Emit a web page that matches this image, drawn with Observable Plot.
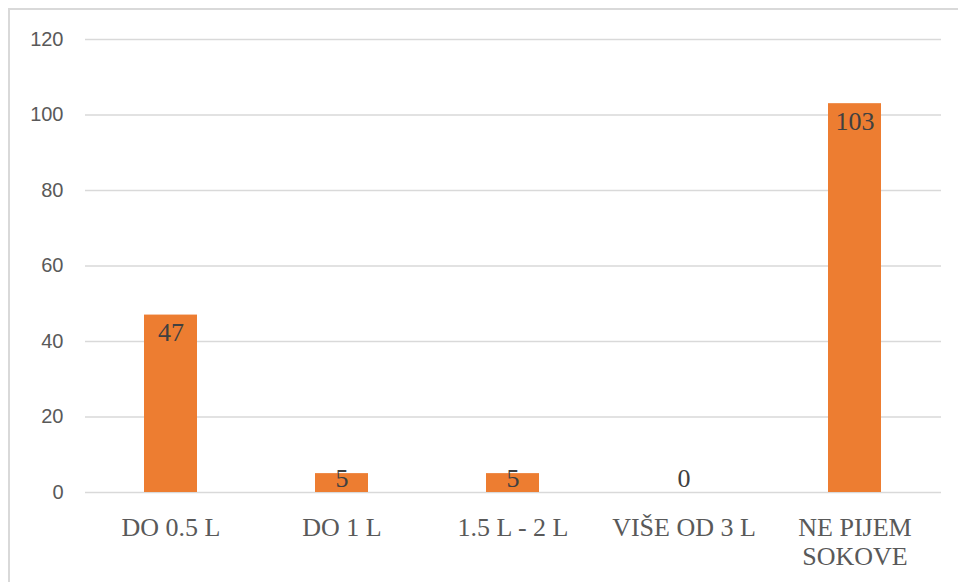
<!DOCTYPE html>
<html>
<head>
<meta charset="utf-8">
<script src="https://cdn.jsdelivr.net/npm/d3@7"></script>
<script src="https://cdn.jsdelivr.net/npm/@observablehq/plot@0.6"></script>
<style>
  html, body { margin: 0; padding: 0; background: #fff; overflow: hidden; }
  #wrap { position: relative; width: 958px; height: 582px; }
  #frame { position: absolute; left: 8px; top: 8px; width: 980px; height: 600px; border: 2px solid #d9d9d9; box-sizing: border-box; pointer-events: none; }
  #chart { position: absolute; left: 0; top: 0; }
  .xax text { font-family: 'Liberation Serif', 'Times New Roman', serif !important; font-size: 26px !important; }
  .yax text { font-family: 'Liberation Sans', Arial, sans-serif !important; font-size: 20px !important; }
  .lbl text { font-family: 'Liberation Serif', 'Times New Roman', serif !important; font-size: 26px !important; }
</style>
</head>
<body>
<div id="wrap">
  <div id="chart"></div>
  <div id="frame"></div>
</div>
<script>
const categories = ["DO 0.5 L", "DO 1 L", "1.5 L - 2 L", "VIŠE OD 3 L", "NE PIJEM SOKOVE"];
const tickLabels = ["DO 0.5 L", "DO 1 L", "1.5 L - 2 L", "VIŠE OD 3 L", "NE PIJEM\nSOKOVE"];
const values = [47, 5, 5, 0, 103];
const yTicks = [0, 20, 40, 60, 80, 100, 120];

const data = categories.map((c, i) => ({category: c, value: values[i]}));
const labelOf = new Map(categories.map((c, i) => [c, tickLabels[i]]));

const serif = "'Liberation Serif', 'Times New Roman', serif";
const sans = "'Liberation Sans', Arial, sans-serif";

const chart = Plot.plot({
  width: 958,
  height: 582,
  marginTop: 39,
  marginBottom: 90,
  marginLeft: 85,
  marginRight: 17,
  style: {background: "transparent", overflow: "visible"},
  x: {domain: categories, paddingInner: 0.69, paddingOuter: 0.345, label: null},
  y: {domain: [0, 120], label: null},
  marks: [
    Plot.gridY(yTicks, {stroke: "#d9d9d9", strokeOpacity: 1, strokeWidth: 1.4}),
    Plot.barY(data, {x: "category", y: "value", fill: "#ED7D31"}),
    Plot.text(data.filter(d => d.value >= 10), {
      x: "category", y: "value", text: d => String(d.value), className: "lbl",
      dy: 18, fontFamily: serif, fontSize: 26, fill: "#404040"
    }),
    Plot.text(data.filter(d => d.value < 10), {
      x: "category", y: () => 0, text: d => String(d.value), className: "lbl",
      dy: -14, fontFamily: serif, fontSize: 26, fill: "#404040"
    }),
    Plot.axisY({
      ticks: yTicks, tickSize: 0, tickPadding: 22, label: null, className: "yax",
      fontFamily: sans, fontSize: 20, fill: "#595959"
    }),
    Plot.axisX({
      tickSize: 0, tickPadding: 24, label: null, className: "xax",
      tickFormat: d => labelOf.get(d),
      fontFamily: serif, fontSize: 26, fill: "#595959", lineHeight: 1.08
    })
  ]
});
document.getElementById("chart").appendChild(chart);
</script>
</body>
</html>
